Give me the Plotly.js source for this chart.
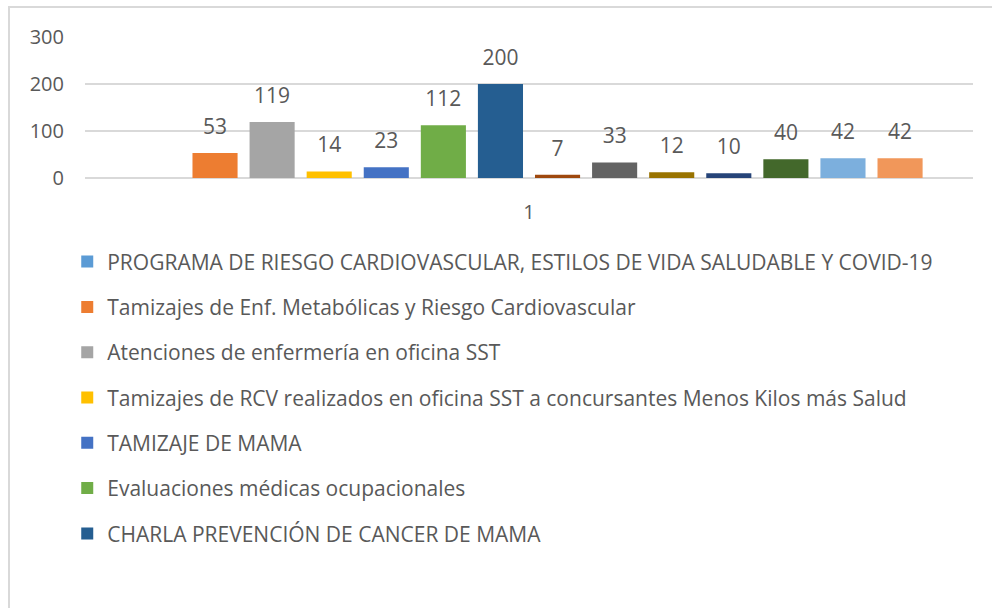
<!DOCTYPE html>
<html>
<head>
<meta charset="utf-8">
<script src="https://cdn.plot.ly/plotly-3.0.1.min.js"></script>
<style>
  html, body { margin: 0; padding: 0; background: #ffffff; overflow: hidden; }
  #frame {
    position: absolute; left: 8px; top: 6px; width: 1200px; height: 900px;
    border: 2px solid #d9d9d9; box-sizing: border-box;
  }
  #chart { position: absolute; left: 0; top: 0; width: 992px; height: 608px; }
</style>
</head>
<body>
<div id="frame"></div>
<div id="chart"></div>
<script>
const category = ["1"];

const seriesNames = [
  "PROGRAMA DE RIESGO CARDIOVASCULAR, ESTILOS DE VIDA SALUDABLE Y COVID-19",
  "Tamizajes de Enf. Metabólicas y Riesgo Cardiovascular",
  "Atenciones de enfermería en oficina SST",
  "Tamizajes de RCV realizados en oficina SST a concursantes Menos Kilos más Salud",
  "TAMIZAJE DE MAMA",
  "Evaluaciones médicas ocupacionales",
  "CHARLA PREVENCIÓN DE CANCER DE MAMA",
  "Serie 8",
  "Serie 9",
  "Serie 10",
  "Serie 11",
  "Serie 12",
  "Serie 13",
  "Serie 14",
];

const seriesValues = [null, 53, 119, 14, 23, 112, 200, 7, 33, 12, 10, 40, 42, 42];

const seriesColors = [
  "#5b9bd5", "#ed7d31", "#a5a5a5", "#ffc000", "#4472c4", "#70ad47", "#255e91",
  "#9e480e", "#636363", "#997300", "#264478", "#43682b", "#7cafdd", "#f1975a",
];

// only the first seven series are visible in the legend of the original
const legendCount = 7;

const font = "'Open Sans', 'Liberation Sans', sans-serif";

const traces = seriesNames.map((name, i) => ({
  type: "bar",
  name: name,
  x: category,
  y: [seriesValues[i]],
  marker: { color: seriesColors[i] },
  text: seriesValues[i] === null ? [""] : [String(seriesValues[i])],
  // empty second line with a small base size lifts the label a bit, like Excel
  texttemplate: "<span style='font-size:21px'>%{text}</span><br> ",
  textposition: "outside",
  textfont: { family: font, size: 10, color: "#595959" },
  cliponaxis: false,
  hoverinfo: "name+y",
  legendgroup: "g" + i,
  showlegend: i < legendCount,
}));

const layout = {
  width: 992,
  height: 608,
  paper_bgcolor: "rgba(0,0,0,0)",
  plot_bgcolor: "rgba(0,0,0,0)",
  font: { family: font, color: "#595959", size: 20 },
  margin: { l: 85, r: 19, t: 37, b: 430 },
  barmode: "group",
  bargap: 0.1,
  bargroupgap: 0.21,
  xaxis: {
    type: "category",
    showgrid: false,
    zeroline: false,
    showline: false,
    ticks: "",
    ticklabelstandoff: 20,
    tickfont: { family: font, size: 20, color: "#595959" },
    fixedrange: true,
  },
  yaxis: {
    range: [0, 300],
    dtick: 100,
    showgrid: true,
    gridcolor: "#d9d9d9",
    gridwidth: 2,
    zeroline: true,
    zerolinecolor: "#d9d9d9",
    zerolinewidth: 2,
    showline: false,
    ticks: "",
    ticklabelstandoff: 20,
    tickfont: { family: font, size: 20, color: "#595959" },
    fixedrange: true,
  },
  showlegend: true,
  legend: {
    orientation: "v",
    x: -0.02,
    xanchor: "left",
    y: -0.45,
    yanchor: "top",
    font: { family: font, size: 21, color: "#595959" },
    tracegroupgap: 15,
    bgcolor: "rgba(0,0,0,0)",
  },
};

Plotly.newPlot("chart", traces, layout, { displayModeBar: false, staticPlot: true });
</script>
</body>
</html>
